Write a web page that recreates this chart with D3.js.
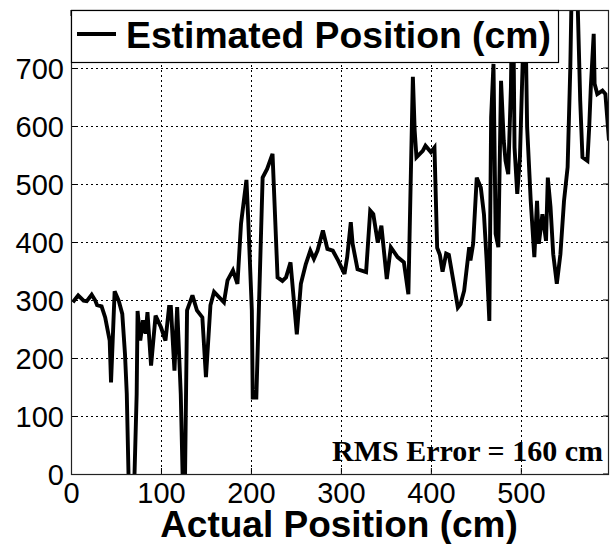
<!DOCTYPE html>
<html><head><meta charset="utf-8">
<script src="https://cdn.jsdelivr.net/npm/d3@7"></script>
<style>html,body{margin:0;padding:0;background:#fff;}svg{display:block;}</style>
</head><body>
<script>
// ---- data ----
const actualPos = [2,8,14,17.5,23,27,29,34,38,43,44.5,48.5,53,57,60,62,66,68,73,74,77,80,83,85,89,94,100,105,109,111,115,118,122,125.5,126,129,135,140,146,150,155,159,170,174,180,185,189,195,197,201,202,206,213,218,224,229.6,235,239,244,251,255.5,261,266,270,274,280,285,291,297,304,307,311,313,318.5,328,332.6,336,341,345,351,355.5,363,370,375,380,382,384,391,394,400,404,407,410,413,417,420,425,430,433,437,442.6,444,447,451,455.5,459,462,465,467,469.6,472,475,478,481,483,486,489,491,493,496,499,502,504,507,511,515,518,520,524,528,530,533,536,540,544,548,552,555,557,562,566,568.5,574,576,577.8,581,582,585,590.7,594,598];
const estimatedPos = [296,308,299,298,309,299,291,289,270,230,158,315,299,276,207,138,-150,-150,138,281,230,265,242,279,187,273,253,230,288,288,178,288,138,-100,-100,282,308,282,270,167,291,314,296,334,351,328,432,507,438,282,132,132,511,526,552,339,333,339,365,241,328,362,385,371,385,420,388,385,368,345,374,434,397,353,348,454,448,399,428,336,391,374,365,310,685,592,546,557,566,555,563,390,378,349,380,378,333,287,293,316,391,368,397,511,494,448,368,264,615,707,414,391,678,575,540,517,667,900,563,483,546,707,900,598,471,374,471,397,448,402,511,460,379,328,379,471,529,701,880,880,644,546,540,598,667,759,673,655,661,655,575];
const xTicks = [0,100,200,300,400,500];
const yTicks = [0,100,200,300,400,500,600,700];
const legendLabel = "Estimated Position (cm)";
const xLabel = "Actual Position (cm)";
const rmsLabel = "RMS Error = 160 cm";

// ---- layout ----
const W = 611, H = 544;
const L = 71, R = 609, T = 10, B = 474;
const svg = d3.select("body").append("svg").attr("width", W).attr("height", H);
svg.append("rect").attr("width", W).attr("height", H).attr("fill", "#fff");

const x = d3.scaleLinear().domain([0, 598]).range([L, R]);
const y = d3.scaleLinear().domain([0, 800]).range([B, T]);

// grid
const grid = svg.append("g").attr("stroke", "#000").attr("stroke-width", 1).attr("stroke-dasharray", "2,3");
grid.selectAll(".gx").data(xTicks.filter(d => d > 0)).join("line")
  .attr("x1", d => Math.round(x(d)) + 0.5).attr("x2", d => Math.round(x(d)) + 0.5)
  .attr("y1", T).attr("y2", B);
grid.selectAll(".gy").data(yTicks.filter(d => d > 0)).join("line")
  .attr("y1", d => Math.round(y(d)) + 0.5).attr("y2", d => Math.round(y(d)) + 0.5)
  .attr("x1", L).attr("x2", R);

// line
svg.append("clipPath").attr("id", "clip").append("rect")
  .attr("x", L).attr("y", T).attr("width", R - L).attr("height", B - T);
const pts = actualPos.map((d, i) => [d, estimatedPos[i]]);
svg.append("path").datum(pts)
  .attr("clip-path", "url(#clip)")
  .attr("fill", "none").attr("stroke", "#000").attr("stroke-width", 3.9)
  .attr("stroke-linejoin", "miter").attr("stroke-miterlimit", 3)
  .attr("d", d3.line().x(d => x(d[0])).y(d => y(d[1])));

// axes (ticks inward)
const tickLen = 6;
const xAxis = d3.axisBottom(x).tickValues(xTicks).tickSize(-tickLen).tickPadding(9).tickFormat(d3.format("d"));
const yAxis = d3.axisLeft(y).tickValues(yTicks).tickSize(-tickLen).tickPadding(7).tickFormat(d3.format("d"));
const gx = svg.append("g").attr("transform", `translate(0,${B})`).call(xAxis);
const gy = svg.append("g").attr("transform", `translate(${L},0)`).call(yAxis);
[gx, gy].forEach(g => {
  g.select(".domain").remove();
  g.selectAll("line").attr("stroke", "#000");
  g.selectAll("text").attr("font-family", "Liberation Sans, Arial, sans-serif").attr("font-size", 29).attr("fill", "#000");
});
gx.selectAll("text").attr("dy", "0.70em");
gy.selectAll("text").attr("dy", "0.36em");
// top & right ticks
svg.append("g").selectAll("line").data(xTicks).join("line")
  .attr("x1", d => x(d)).attr("x2", d => x(d)).attr("y1", T).attr("y2", T + tickLen).attr("stroke", "#000");
svg.append("g").selectAll("line").data(yTicks).join("line")
  .attr("y1", d => y(d)).attr("y2", d => y(d)).attr("x1", R).attr("x2", R - tickLen).attr("stroke", "#000");

// frame
svg.append("rect").attr("x", L + 0.5).attr("y", T + 0.5).attr("width", R - L - 1).attr("height", B - T)
  .attr("fill", "none").attr("stroke", "#222").attr("stroke-width", 1.2);

// legend
const lg = svg.append("g");
lg.append("rect").attr("x", L + 0.5).attr("y", T + 0.5).attr("width", 487).attr("height", 52)
  .attr("fill", "#fff").attr("stroke", "#000").attr("stroke-width", 1.2);
lg.append("line").attr("x1", 77).attr("x2", 116).attr("y1", 34).attr("y2", 34)
  .attr("stroke", "#000").attr("stroke-width", 4);
lg.append("text").attr("x", 126).attr("y", 48).text(legendLabel)
  .attr("font-family", "Liberation Sans, Arial, sans-serif").attr("font-weight", "bold").attr("font-size", 37.3);

// x label
svg.append("text").attr("x", 339).attr("y", 537).attr("text-anchor", "middle").text(xLabel)
  .attr("font-family", "Liberation Sans, Arial, sans-serif").attr("font-weight", "bold").attr("font-size", 37);

// RMS annotation
svg.append("text").attr("x", 603).attr("y", 461).attr("text-anchor", "end").text(rmsLabel)
  .attr("font-family", "Liberation Serif, Times New Roman, serif").attr("font-weight", "bold").attr("font-size", 30);
</script>
</body></html>
